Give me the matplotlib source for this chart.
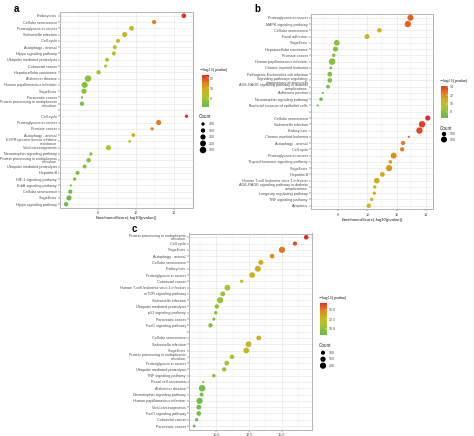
import numpy as np
import matplotlib
matplotlib.use("Agg")
import matplotlib.pyplot as plt
from matplotlib.colors import LinearSegmentedColormap, Normalize

# ---------------- data ----------------
a_terms = ["Endocytosis", "Cellular senescence", "Proteoglycans in cancer", "Salmonella infection",
           "Cell cycle", "Autophagy - animal", "Hippo signaling pathway", "Ubiquitin mediated proteolysis",
           "Colorectal cancer", "Hepatocellular carcinoma", "Alzheimer disease",
           "Human papillomavirus infection", "Shigellosis", "Pancreatic cancer",
           "Protein processing in endoplasmic\nreticulum",
           "",
           "Cell cycle", "Proteoglycans in cancer", "Prostate cancer", "Autophagy - animal",
           "EGFR tyrosine kinase inhibitor\nresistance", "Viral carcinogenesis",
           "Neurotrophin signaling pathway", "Protein processing in endoplasmic\nreticulum",
           "Ubiquitin mediated proteolysis", "Hepatitis B", "HIF-1 signaling pathway",
           "ErbB signaling pathway", "Cellular senescence", "Shigellosis", "Hippo signaling pathway"]
a_score = [12.52, 10.96, 9.78, 9.42, 9.07, 8.90, 8.85, 8.50, 8.42, 8.05, 7.50, 7.32, 7.29, 7.18, 7.18,
           None,
           12.66, 11.20, 10.86, 9.87, 9.68, 8.57, 7.65, 7.53, 7.32, 6.95, 6.80, 6.60, 6.57, 6.50, 6.35]
a_count = [170, 150, 170, 200, 130, 130, 140, 130, 90, 150, 300, 270, 200, 70, 150,
           None,
           100, 200, 100, 120, 80, 200, 100, 160, 130, 130, 100, 60, 140, 200, 150]

b_terms = ["Proteoglycans in cancer", "MAPK signaling pathway", "Cellular senescence", "Focal adhesion",
           "Shigellosis", "Hepatocellular carcinoma", "Prostate cancer", "Human papillomavirus infection",
           "Chronic myeloid leukemia", "Pathogenic Escherichia coli infection",
           "Signaling pathways regulating\npluripotency of stem cells",
           "AGE-RAGE signaling pathway in diabetic\ncomplications", "Adherens junction",
           "Neurotrophin signaling pathway", "Bacterial invasion of epithelial cells",
           "",
           "Cellular senescence", "Salmonella infection", "Endocytosis", "Chronic myeloid leukemia",
           "Autophagy - animal", "Cell cycle", "Proteoglycans in cancer",
           "Thyroid hormone signaling pathway", "Shigellosis", "Hepatitis B",
           "Human T-cell leukemia virus 1 infection",
           "AGE-RAGE signaling pathway in diabetic\ncomplications", "Longevity regulating pathway",
           "TNF signaling pathway", "Apoptosis"]
b_score = [12.95, 12.77, 10.82, 9.97, 7.89, 7.80, 7.68, 7.57, 7.48, 7.41, 7.41, 7.29, 6.93, 6.81, 6.58,
           None,
           14.14, 13.75, 13.57, 12.84, 12.45, 12.38, 11.80, 11.57, 11.48, 11.02, 10.64, 10.50, 10.47,
           10.29, 10.09]
b_count = [150, 165, 100, 120, 140, 120, 80, 170, 65, 110, 105, 85, 55, 80, 55,
           None,
           120, 165, 165, 55, 95, 95, 150, 80, 160, 110, 140, 75, 75, 75, 100]

c_terms = ["Protein processing in endoplasmic\nreticulum", "Cell cycle", "Shigellosis",
           "Autophagy - animal", "Cellular senescence", "Endocytosis", "Proteoglycans in cancer",
           "Colorectal cancer", "Human T-cell leukemia virus 1 infection", "mTOR signaling pathway",
           "Salmonella infection", "Ubiquitin mediated proteolysis", "p53 signaling pathway",
           "Pancreatic cancer", "FoxO signaling pathway",
           "",
           "Cellular senescence", "Salmonella infection", "Shigellosis",
           "Protein processing in endoplasmic\nreticulum", "Proteoglycans in cancer",
           "Ubiquitin mediated proteolysis", "TNF signaling pathway", "Renal cell carcinoma",
           "Alzheimer disease", "Neurotrophin signaling pathway", "Human papillomavirus infection",
           "Viral carcinogenesis", "FoxO signaling pathway", "Colorectal cancer", "Pancreatic cancer"]
c_score = [16.86, 16.00, 15.01, 14.26, 13.40, 13.17, 12.74, 11.93, 10.85, 10.49, 10.29, 10.04, 9.96,
           9.81, 9.56,
           None,
           13.24, 12.46, 12.29, 11.20, 10.80, 10.60, 9.81, 9.00, 8.92, 8.88, 8.73, 8.67, 8.67, 8.50, 8.32]
c_count = [120, 100, 200, 120, 130, 190, 170, 70, 180, 130, 200, 110, 80, 65, 110,
           None,
           120, 180, 180, 120, 130, 110, 80, 40, 220, 90, 200, 130, 120, 70, 55]

a_xticks = [8, 10, 12]
b_xticks = [8, 10, 12, 14]
c_xticks = [10.0, 12.5, 15.0]
a_cbticks = [8, 10, 12]
b_cbticks = [8, 10, 12, 14]
c_cbticks = [10.0, 12.5, 15.0]
a_legend_counts = [100, 150, 200, 250, 300]
b_legend_counts = [100, 150]
c_legend_counts = [100, 150, 200]

# ---------------- style ----------------
W, H = 474, 436
plt.rcParams['font.family'] = ['Liberation Sans', 'DejaVu Sans']
fig = plt.figure(figsize=(W / 100, H / 100), dpi=100)

cmap = LinearSegmentedColormap.from_list(
    'gyr', [(0.0, '#66bd4a'), (0.35, '#b2c42a'), (0.55, '#d0b01c'), (0.75, '#e4801e'), (1.0, '#e32a26')])

LBL = 2.7
TXT = '#4d4d4d'


def box(l, t, r, b):
    return [l / W, 1 - b / H, (r - l) / W, (b - t) / H]


def size_fn(cmin, cmax, smin=2.4, smax=22.0):
    def f(c):
        c = np.asarray(c, dtype=float)
        return smin + (c - cmin) / (cmax - cmin) * (smax - smin)
    return f


def panel(terms, score, count, pos, xlim, xticks, xfmt, minor, sz, title_x=True):
    ax = fig.add_axes(box(*pos))
    n = len(terms)
    ys = np.arange(n)
    idx = [i for i in range(n) if score[i] is not None]
    sc = np.array([score[i] for i in idx])
    ct = np.array([count[i] for i in idx])
    norm = Normalize(vmin=sc.min(), vmax=sc.max())
    ax.scatter(sc, ys[idx], s=sz(ct), c=sc, cmap=cmap, norm=norm, linewidths=0, zorder=3)
    ax.set_ylim(n - 0.4, -0.6)
    ax.set_xlim(*xlim)
    ax.set_yticks(ys)
    ax.set_yticklabels(terms, fontsize=LBL, color=TXT, linespacing=0.9)
    ax.set_xticks(xticks)
    ax.set_xticklabels([xfmt.format(v) for v in xticks], fontsize=LBL, color=TXT)
    ax.set_xticks(minor, minor=True)
    ax.tick_params(axis='both', which='major', length=1.4, width=0.35, color='#444444', pad=0.8)
    ax.tick_params(axis='x', which='minor', length=0)
    ax.grid(True, which='major', color='#e6e6e6', linewidth=0.45, zorder=0)
    ax.grid(True, which='minor', axis='x', color='#f0f0f0', linewidth=0.3, zorder=0)
    ax.set_axisbelow(True)
    for s in ax.spines.values():
        s.set_color('#b3b3b3')
        s.set_linewidth(0.7)
    if title_x:
        ax.set_xlabel('EnrichmentScore(-log10(pvalue))', fontsize=3.1, color='#222222', labelpad=1.0)
    return norm


def colorbar(norm, pos, ticks, fmt, title_xy):
    cax = fig.add_axes(box(*pos))
    grad = np.linspace(norm.vmin, norm.vmax, 256).reshape(-1, 1)
    cax.imshow(grad, aspect='auto', cmap=cmap, norm=norm, origin='lower',
               extent=[0, 1, norm.vmin, norm.vmax])
    cax.set_xticks([])
    cax.yaxis.tick_right()
    cax.set_yticks(ticks)
    cax.set_yticklabels([fmt.format(t) for t in ticks], fontsize=2.5, color=TXT)
    cax.tick_params(axis='y', length=1.2, width=0.3, color='white', pad=1.2, direction='in')
    for s in cax.spines.values():
        s.set_visible(False)
    fig.text(title_xy[0] / W, 1 - title_xy[1] / H, r'$-\log_{10}$(pvalue)', fontsize=2.9,
             color='#222222', ha='left', va='center')


def count_legend(counts, sz, x, y_title, y0, dy):
    fig.text(x / W, 1 - y_title / H, 'Count', fontsize=3.3, color='#222222', ha='left', va='center')
    lax = fig.add_axes([0, 0, 1, 1], facecolor='none')
    lax.set_xlim(0, W)
    lax.set_ylim(H, 0)
    lax.axis('off')
    ys = y0 + dy * np.arange(len(counts))
    lax.scatter(np.full(len(counts), x + 4), ys, s=sz(np.array(counts)), c='black', linewidths=0)
    for c, yy in zip(counts, ys):
        lax.text(x + 10, yy, str(c), fontsize=2.5, color=TXT, ha='left', va='center')


# panel a
sz_a = size_fn(60, 300)
na = panel(a_terms, a_score, a_count, (60, 12, 193, 208), (6.03, 12.93), a_xticks, '{:g}',
           [7, 9, 11, 13], sz_a)
colorbar(na, (201.5, 75, 208.5, 107), a_cbticks, '{:g}', (199, 70))
count_legend(a_legend_counts, sz_a, 199, 117, 124, 6.5)

# panel b
sz_b = size_fn(55, 170)
nb = panel(b_terms, b_score, b_count, (311, 14, 432.7, 209.5), (6.12, 14.48), b_xticks, '{:g}',
           [7, 9, 11, 13], sz_b)
colorbar(nb, (441, 86, 448, 118), b_cbticks, '{:g}', (439, 81))
count_legend(b_legend_counts, sz_b, 440, 128, 134, 5.5)

# panel c
sz_c = size_fn(40, 220)
nc = panel(c_terms, c_score, c_count, (189, 233.5, 312, 429.8), (7.92, 17.3), c_xticks, '{:.1f}',
           [8.75, 11.25, 13.75, 16.25], sz_c, title_x=False)
colorbar(nc, (320, 302.7, 326.7, 335), c_cbticks, '{:.1f}', (318, 297.5))
count_legend(c_legend_counts, sz_c, 319, 345.7, 352.7, 6.5)

# panel letters
fig.text(14 / W, 1 - 9.5 / H, 'a', fontsize=7, fontweight='bold', ha='left', va='center')
fig.text(254 / W, 1 - 9.5 / H, 'b', fontsize=7, fontweight='bold', ha='left', va='center')
fig.text(132 / W, 1 - 229 / H, 'c', fontsize=7, fontweight='bold', ha='left', va='center')

fig.savefig('out.png', dpi=100)
